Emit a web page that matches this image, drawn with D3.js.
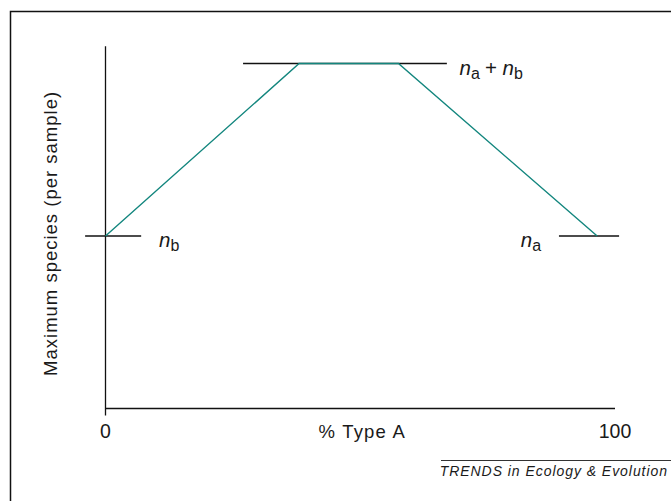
<!DOCTYPE html>
<html>
<head>
<meta charset="utf-8">
<script src="https://cdn.jsdelivr.net/npm/d3@7"></script>
<style>
  body { margin: 0; background: #fff; }
  text { font-family: "Liberation Sans", Arial, sans-serif; fill: #1a1a1a; }
</style>
</head>
<body>
<script>
// curve of max species vs % type A (units: na = nb = 1)
const pctA = [0, 38, 57.5, 96.5]
const maxSpecies = [1, 2, 2, 1]

// horizontal reference levels
const levelY = [1, 2, 1]
const levelFrom = [-4, 27, 89]
const levelTo = [7, 67, 100.8]

const xTicks = [0, 100]
const xTickLabels = ['0', '100']

const W = 671, H = 501
const svg = d3.select('body').append('svg').attr('width', W).attr('height', H)

const x = d3.scaleLinear().domain([0, 100]).range([105.5, 615])
const y = d3.scaleLinear().domain([0, 2]).range([408.5, 63.5])

// frame (left + top only, picture is cropped on the other sides)
svg.append('path')
    .attr('d', `M10.5,${H} L10.5,11.5 L${W},11.5`)
    .attr('fill', 'none').attr('stroke', '#111').attr('stroke-width', 1.5)

// axes
svg.append('line')
    .attr('x1', x(0)).attr('x2', x(0))
    .attr('y1', y(2.1)).attr('y2', y(0) + 7)
    .attr('stroke', '#111').attr('stroke-width', 1.3)
svg.append('line')
    .attr('x1', x(0)).attr('x2', x(100))
    .attr('y1', y(0)).attr('y2', y(0))
    .attr('stroke', '#111').attr('stroke-width', 1.3)

svg.selectAll('.tick').data(xTicks).enter()
    .append('text')
    .attr('x', d => x(d)).attr('y', 438)
    .attr('text-anchor', 'middle')
    .attr('font-size', 19.5)
    .text((d, i) => xTickLabels[i])

svg.append('text')
    .attr('x', x(50) + 2).attr('y', 438)
    .attr('text-anchor', 'middle').attr('font-size', 18.5)
    .attr('letter-spacing', 1.2)
    .text('% Type A')

svg.append('text')
    .attr('transform', `translate(57,${y(1.015)}) rotate(-90)`)
    .attr('text-anchor', 'middle').attr('font-size', 18.5)
    .attr('letter-spacing', 1)
    .text('Maximum species (per sample)')

// level lines
svg.selectAll('.level').data(levelY).enter()
    .append('line')
    .attr('x1', (d, i) => x(levelFrom[i])).attr('x2', (d, i) => x(levelTo[i]))
    .attr('y1', d => y(d)).attr('y2', d => y(d))
    .attr('stroke', '#111').attr('stroke-width', 1.3)

// the curve
const line = d3.line().x(d => x(d[0])).y(d => y(d[1]))
svg.append('path')
    .datum(d3.zip(pctA, maxSpecies))
    .attr('d', line)
    .attr('fill', 'none')
    .attr('stroke', '#13867e')
    .attr('stroke-width', 1.4)

// n labels
function nLabel(px, py, subs) {
    const t = svg.append('text').attr('x', px).attr('y', py).attr('font-size', 20.5)
    subs.forEach((s, i) => {
        if (i > 0) t.append('tspan').attr('dx', 5).attr('dy', -4).text('+ ')
        t.append('tspan').attr('font-style', 'italic').text('n')
        t.append('tspan').attr('dy', 4).attr('font-size', 16).text(s)
    })
}
nLabel(x(10.5), y(1) + 11, ['b'])
nLabel(x(81.5), y(1) + 11, ['a'])
nLabel(x(69.5), y(2) + 11, ['a', 'b'])

// journal credit
svg.append('line')
    .attr('x1', 441).attr('x2', W).attr('y1', 460.5).attr('y2', 460.5)
    .attr('stroke', '#333').attr('stroke-width', 1)
svg.append('text')
    .attr('x', 668).attr('y', 476)
    .attr('text-anchor', 'end').attr('font-size', 14).attr('font-style', 'italic')
    .attr('letter-spacing', 0.95)
    .text('TRENDS in Ecology & Evolution')
</script>
</body>
</html>
